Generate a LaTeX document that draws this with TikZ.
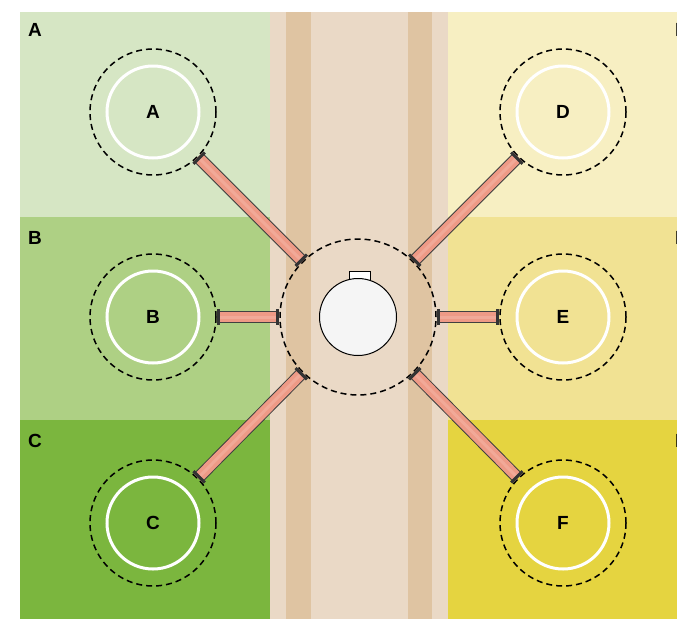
\documentclass[tikz,border=0pt]{standalone}
\usepackage{fontspec}
\setmainfont{Liberation Sans}
\usetikzlibrary{calc}
\usetikzlibrary{arrows.meta}

\definecolor{plotA}{HTML}{D6E6C4}
\definecolor{plotB}{HTML}{AED084}
\definecolor{plotC}{HTML}{7BB63E}
\definecolor{plotD}{HTML}{F7EFC2}
\definecolor{plotE}{HTML}{F1E293}
\definecolor{plotF}{HTML}{E5D440}
\definecolor{roadBase}{HTML}{EAD9C6}
\definecolor{roadStripe}{HTML}{DFC4A2}
\definecolor{tubeColor}{HTML}{EE9A86}
\definecolor{wellColor}{HTML}{F5F5F5}

\begin{document}
\begin{tikzpicture}[x=1pt, y=-1pt,
	site/.style = {circle, draw, dashed, dash pattern=on 6pt off 4pt, line width=1.5pt, minimum size=126pt, inner sep=0pt, font=\bfseries\fontsize{19}{19}\selectfont},
	ring/.style = {draw=white, line width=3pt},
	corner/.style = {anchor=north west, inner sep=0pt, font=\bfseries\fontsize{19}{19}\selectfont},
	tube/.style = {draw=black!75, line width=1pt, double=tubeColor, double distance=10.5pt},
	tubeEnds/.style = {draw=tubeColor!85!white, line width=3pt, {Bar[width=16pt, line width=3pt, color=black!80]}-{Bar[width=16pt, line width=3pt, color=black!80]}}]

	\useasboundingbox (0,0) rectangle (677,619);
	\clip (0,0) rectangle (677,619);

	% plots on the left
	\def \leftEdge {20};
	\def \roadLeft {270};
	\def \roadRight {448};
	\def \rightEdge {700};
	\fill [plotA] (\leftEdge,12) rectangle (\roadLeft,217);
	\fill [plotB] (\leftEdge,217) rectangle (\roadLeft,420);
	\fill [plotC] (\leftEdge,420) rectangle (\roadLeft,619);

	% plots on the right
	\fill [plotD] (\roadRight,12) rectangle (\rightEdge,217);
	\fill [plotE] (\roadRight,217) rectangle (\rightEdge,420);
	\fill [plotF] (\roadRight,420) rectangle (\rightEdge,619);

	% road with its two stripes
	\fill [roadBase] (\roadLeft,12) rectangle (\roadRight,619);
	\fill [roadStripe] (286,12) rectangle (311,619);
	\fill [roadStripe] (408,12) rectangle (432,619);

	% plot labels
	\node [corner] (labelA) at (28,23) {A};
	\node [corner] (labelB) at (28,231) {B};
	\node [corner] (labelC) at (28,434) {C};
	\node [corner] (labelD) at (675,23) {D};
	\node [corner] (labelE) at (675,231) {E};
	\node [corner] (labelF) at (675,434) {F};

	% sites
	\node [site] (siteA) at (153,112) {A};
	\node [site] (siteB) at (153,317) {B};
	\node [site] (siteC) at (153,523) {C};
	\node [site] (siteD) at (563,112) {D};
	\node [site] (siteE) at (563,317) {E};
	\node [site] (siteF) at (563,523) {F};
	\draw [ring] (siteA) circle (46);
	\draw [ring] (siteB) circle (46);
	\draw [ring] (siteC) circle (46);
	\draw [ring] (siteD) circle (46);
	\draw [ring] (siteE) circle (46);
	\draw [ring] (siteF) circle (46);

	% hub in the road
	\node [site, minimum size=156pt] (hub) at (358,317) {};
	\draw [fill=white, line width=1pt] (349,271) rectangle (370,282);
	\node [circle, draw, line width=1pt, fill=wellColor, minimum size=77pt, inner sep=0pt] (well) at (358,317) {};

	% tubes from the sites to the hub
	\draw [tube] (siteA.-45) -- (hub.135);
	\draw [tube] (siteB.0) -- (hub.180);
	\draw [tube] (siteC.45) -- (hub.-135);
	\draw [tube] (siteD.-135) -- (hub.45);
	\draw [tube] (siteE.180) -- (hub.0);
	\draw [tube] (siteF.135) -- (hub.-45);
	\draw [tubeEnds] (siteA.-45) -- (hub.135);
	\draw [tubeEnds] (siteB.0) -- (hub.180);
	\draw [tubeEnds] (siteC.45) -- (hub.-135);
	\draw [tubeEnds] (siteD.-135) -- (hub.45);
	\draw [tubeEnds] (siteE.180) -- (hub.0);
	\draw [tubeEnds] (siteF.135) -- (hub.-45);

\end{tikzpicture}
\end{document}
